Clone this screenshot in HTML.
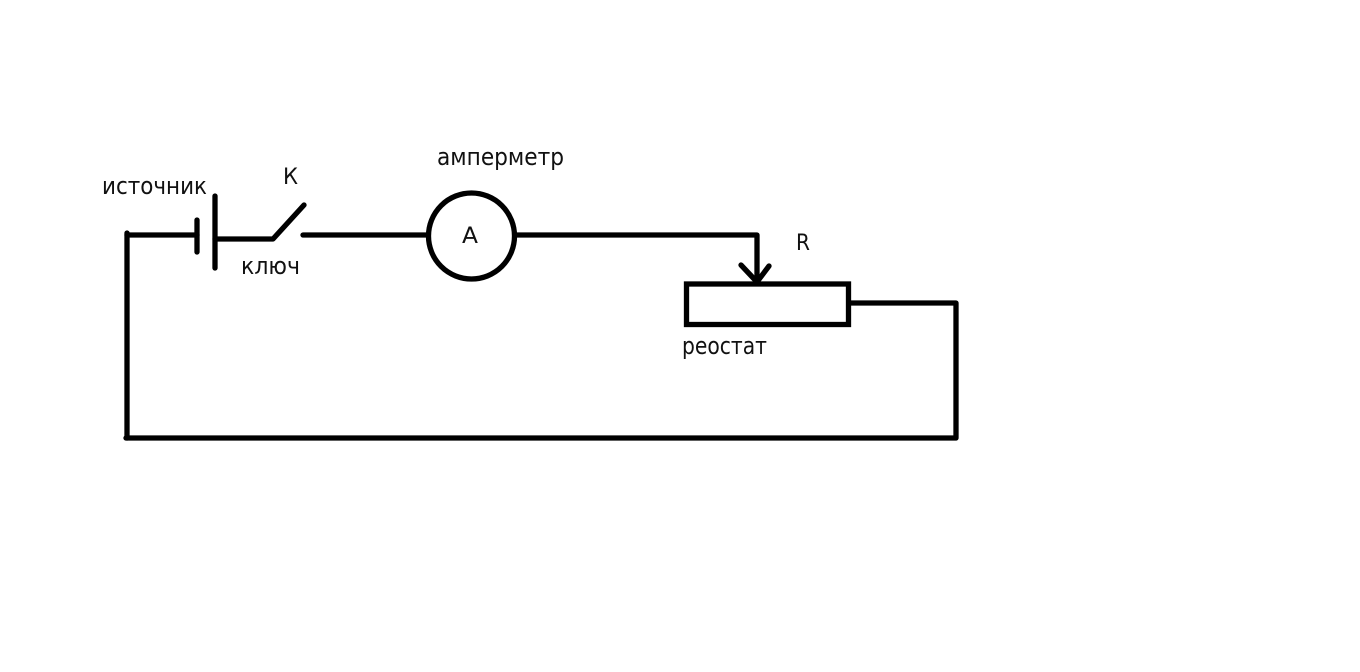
<!DOCTYPE html>
<html>
<head>
<meta charset="utf-8">
<style>
html,body{margin:0;padding:0;background:#fff;width:1360px;height:672px;overflow:hidden}
svg{display:block}
text{font-family:"DejaVu Sans","Liberation Sans",sans-serif;fill:#111;font-size:24px}
</style>
</head>
<body>
<svg width="1360" height="672" viewBox="0 0 1360 672" xmlns="http://www.w3.org/2000/svg">
<rect width="1360" height="672" fill="#fff"/>
<g fill="none" stroke="#000" stroke-width="5.300" stroke-linecap="round" stroke-linejoin="round">
<path d="M127 233V438"/>
<path d="M127 235H197"/>
<path d="M197 220V252"/>
<path d="M215 196V268"/>
<path d="M215 239H273L304 205"/>
<path d="M303 235H428"/>
<circle cx="471.500" cy="236" r="43"/>
<path d="M516 235H757V281"/>
<path d="M741 265L757 282L769 266"/>
<rect x="686.500" y="284" width="162" height="40.500" stroke-linecap="butt" stroke-linejoin="miter"/>
<path d="M850 303H956V438H126"/>
</g>
<text x="102" y="194" textLength="105" lengthAdjust="spacingAndGlyphs">источник</text>
<text x="283" y="184" font-size="22" style="font-size:22px" textLength="15" lengthAdjust="spacingAndGlyphs">К</text>
<text x="241" y="274" textLength="59" lengthAdjust="spacingAndGlyphs">ключ</text>
<text x="437" y="165" textLength="127" lengthAdjust="spacingAndGlyphs">амперметр</text>
<text x="462" y="243" style="font-size:22px" textLength="16" lengthAdjust="spacingAndGlyphs">А</text>
<text x="796" y="250" style="font-size:22px" textLength="14" lengthAdjust="spacingAndGlyphs">R</text>
<text x="682" y="354" textLength="85" lengthAdjust="spacingAndGlyphs">реостат</text>
</svg>
</body>
</html>
